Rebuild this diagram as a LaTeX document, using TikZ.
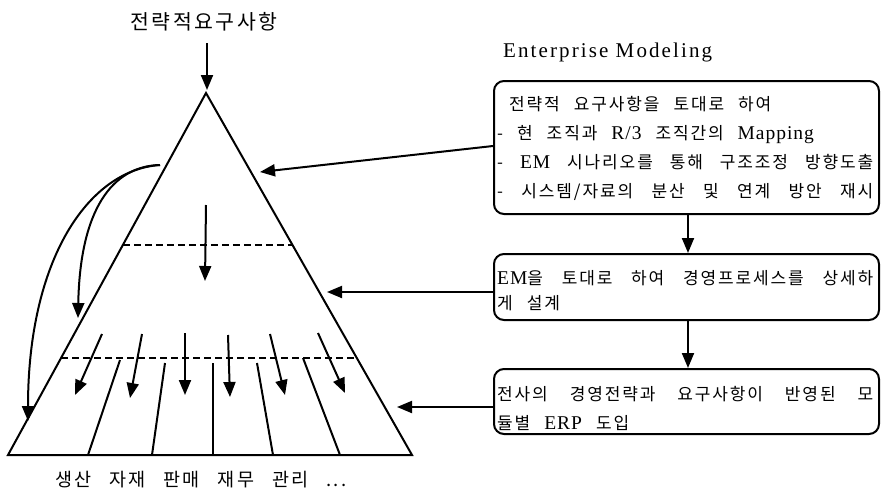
\documentclass[tikz,border=0pt]{standalone}
\usepackage{fontspec}
\setmainfont{Liberation Serif}
\newfontfamily\krf[LetterSpace=12]{Noto Sans CJK KR}
\newfontfamily\krb[LetterSpace=11]{Noto Sans CJK KR}
\newfontfamily\latf[LetterSpace=5]{Liberation Serif}
\newfontfamily\emf[LetterSpace=10]{Liberation Serif}
\newcommand\labfnt{\krf\fontsize{18.5}{18.5}\selectfont\spaceskip=18pt\relax}
\newcommand\boxfnt{\krb\fontsize{17}{29}\selectfont\spaceskip=14pt plus 20pt minus 6pt\relax}
\newcommand\boxfntb{\krb\fontsize{17}{25}\selectfont\spaceskip=14pt plus 20pt minus 6pt\relax}
\newcommand\latx[1]{{\latf\fontsize{19.5}{25}\selectfont #1}}
\newcommand\fullline[1]{\makebox[376pt][s]{#1}}
\usetikzlibrary{arrows.meta}
\tikzset{
  ln/.style={line width=2pt},
  arr/.style={line width=2pt,-{Triangle[length=15pt,width=12pt]}},
  dsh/.style={line width=1.7pt,dash pattern=on 7pt off 4pt},
  boxshape/.style={draw,line width=2pt,rounded corners=10pt,minimum width=385pt,
    anchor=north west,inner sep=0pt},
  boxtext/.style={anchor=base west,inner sep=0pt,align=left,font=\boxfnt},
}
\begin{document}
\begin{tikzpicture}[x=1pt,y=-1pt]
\useasboundingbox (0,0) rectangle (881,493);
% triangle
\coordinate (apex) at (206,93);
\coordinate (bl) at (8,455);
\coordinate (br) at (412,455);
\draw[ln,line join=miter] (apex) -- (bl) -- (br) -- cycle;
% dashed levels
\path (apex) -- (bl) coordinate[pos=0.4199] (d1l);
\path (apex) -- (br) coordinate[pos=0.4199] (d1r);
\path (apex) -- (bl) coordinate[pos=0.7320] (d2l);
\path (apex) -- (br) coordinate[pos=0.7320] (d2r);
\draw[dsh] (d1l) -- (d1r);
\draw[dsh] (d2l) -- (d2r);
% division lines
\coordinate (t1) at (120,360); \coordinate (b1x) at (88,455);
\coordinate (t2) at (165,363); \coordinate (b2x) at (152,455);
\coordinate (t3) at (213,363); \coordinate (b3x) at (213,455);
\coordinate (t4) at (257,363); \coordinate (b4x) at (273,455);
\coordinate (t5) at (303,358); \coordinate (b5x) at (340,455);
\foreach \i in {1,...,5} {\draw[ln] (t\i) -- (b\i x);}
% inner arrows
\coordinate (ca) at (206,205); \coordinate (cb) at (205,281);
\draw[arr] (ca) -- (cb);
\foreach \sx/\sy/\ex/\ey [count=\k] in {102/334/75/395, 142/334/130/398, 185/333/185/395,
  228/335/230/397, 270/334/285/395, 318/333/345/393} {
  \coordinate (s\k) at (\sx,\sy); \coordinate (e\k) at (\ex,\ey);
  \draw[arr] (s\k) -- (e\k);
}
% curved arrows
\coordinate (cs) at (160,165);
\coordinate (ce1) at (78,318);
\coordinate (ce2) at (28,421);
\draw[arr] (cs) .. controls (112,166) and (80,210) .. (ce1);
\draw[arr] (cs) .. controls (88,170) and (28,260) .. (ce2);
% title
\node[font=\krf\fontsize{20.5}{20.5}\selectfont] (title) at (204,22) {전략적요구사항};
\coordinate (tt) at (207,43);
\coordinate (apxin) at (207,90);
\draw[arr] (tt) -- (apxin);
% bottom label
\node[font=\labfnt,anchor=west,inner sep=0pt] (lab) at (55,480) {생산 자재 판매 재무 관리 ...};
% Enterprise Modeling
\node[anchor=base west,inner sep=0pt,font=\emf\fontsize{21}{21}\selectfont] (em) at (503,57) {Enterprise Modeling};
% boxes
\node[boxshape,minimum height=133pt] (box1) at (493,80) {};
\node[boxshape,minimum height=66pt] (box2) at (493,253) {};
\node[boxshape,minimum height=65pt] (box3) at (493,368) {};
\node[boxtext] (box1t) at (497,197) {\hspace*{12pt}전략적 요구사항을 토대로 하여\\
- 현 조직과 \latx{R/3} 조직간의 \latx{Mapping}\\
\fullline{- \latx{EM} 시나리오를 통해 구조조정 방향도출}\\
\fullline{- 시스템/자료의 분산 및 연계 방안 재시}};
\node[boxtext,font=\boxfntb] (box2t) at (497,309) {\fullline{\latx{EM}을 토대로 하여 경영프로세스를 상세하}\\게 설계};
\node[boxtext] (box3t) at (497,429) {\fullline{전사의 경영전략과 요구사항이 반영된 모}\\듈별 \latx{ERP} 도입};
% connectors
\coordinate (h1) at (260,172);
\coordinate (h2) at (327,292);
\coordinate (h3) at (397,407);
\draw[arr] (box1.west |- 0,146) -- (h1);
\draw[arr] (box2.west |- 0,292) -- (h2);
\draw[arr] (box3.west |- 0,407) -- (h3);
\draw[arr] (box1.south -| 688,0) -- (box2.north -| 688,0);
\draw[arr] (box2.south -| 688,0) -- (box3.north -| 688,0);
\end{tikzpicture}
\end{document}
